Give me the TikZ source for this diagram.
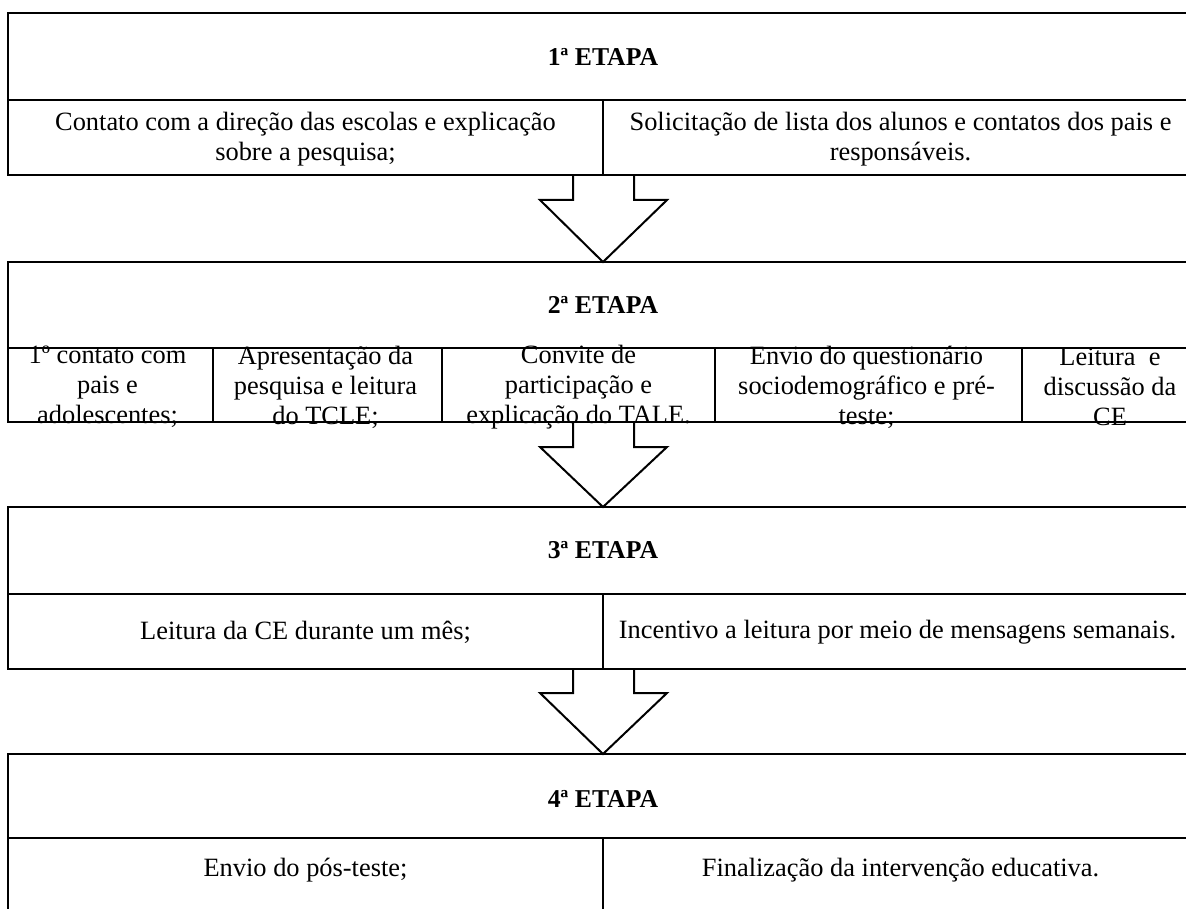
\documentclass[tikz,border=0pt]{standalone}
\usepackage{fontspec}
\setmainfont{Liberation Serif}
\usetikzlibrary{calc}
\begin{document}
\begin{tikzpicture}[x=1pt,y=-1pt,
  cell/.style={draw, line width=2.2pt, anchor=north west, inner sep=0pt, outer sep=0pt},
  txt/.style={align=center, inner sep=0pt, font=\fontsize{26.4}{30}\selectfont},
  ttl/.style={inner sep=0pt, font=\fontsize{25.7}{29.6}\selectfont\bfseries},
  blockarrow/.style={draw, line width=2pt, line join=miter}]
\clip (0,0) rectangle (1186,909);

% ---------- 1a ETAPA ----------
\node[cell, minimum width=1190pt, minimum height=87pt] (e1) at (8,13) {};
\node[ttl] (t1) at (e1.center) {1ª ETAPA};
\node[cell, minimum width=595pt, minimum height=75pt] (c11) at (8,100) {};
\node[cell, minimum width=595pt, minimum height=75pt] (c12) at (603,100) {};
\node[txt] (x11) at ($(c11.center)+(0,2)$) {Contato com a direção das escolas e explicação\\sobre a pesquisa;};
\node[txt] (x12) at ($(c12.center)+(0,2)$) {Solicitação de lista dos alunos e contatos dos pais e\\responsáveis.};

% ---------- 2a ETAPA ----------
\node[cell, minimum width=1190pt, minimum height=86pt] (e2) at (8,262) {};
\node[ttl] (t2) at (e2.center) {2ª ETAPA};
\node[cell, minimum width=205pt, minimum height=74pt] (c21) at (8,348) {};
\node[cell, minimum width=229pt, minimum height=74pt] (c22) at (213,348) {};
\node[cell, minimum width=273pt, minimum height=74pt] (c23) at (442,348) {};
\node[cell, minimum width=307pt, minimum height=74pt] (c24) at (715,348) {};
\node[cell, minimum width=176pt, minimum height=74pt] (c25) at (1022,348) {};
\node[txt] (x21) at ($(c21.center)+(-3,2)$) {1º contato com\\pais e\\adolescentes;};
\node[txt] (x22) at ($(c22.center)+(-2,2)$) {Apresentação da\\pesquisa e leitura\\do TCLE;};
\node[txt] (x23) at ($(c23.center)+(0,2)$) {Convite de\\participação e\\explicação do TALE.};
\node[txt] (x24) at ($(c24.center)+(-2,2)$) {Envio do questionário\\sociodemográfico e pré-\\teste;};
\node[txt] (x25) at ($(c25.center)+(0,2)$) {Leitura~ e\\discussão da\\CE};

% ---------- 3a ETAPA ----------
\node[cell, minimum width=1190pt, minimum height=87pt] (e3) at (8,507) {};
\node[ttl] (t3) at (e3.center) {3ª ETAPA};
\node[cell, minimum width=595pt, minimum height=75pt] (c31) at (8,594) {};
\node[cell, minimum width=595pt, minimum height=75pt] (c32) at (603,594) {};
\node[txt] (x31) at ($(c31.center)+(0,1)$) {Leitura da CE durante um mês;};
\node[txt] (x32) at ($(c32.center)+(-3,1)$) {Incentivo a leitura por meio de mensagens semanais.};

% ---------- 4a ETAPA ----------
\node[cell, minimum width=1190pt, minimum height=84pt] (e4) at (8,754) {};
\node[ttl] (t4) at ($(e4.center)+(0,3)$) {4ª ETAPA};
\node[cell, minimum width=595pt, minimum height=75pt] (c41) at (8,838) {};
\node[cell, minimum width=595pt, minimum height=75pt] (c42) at (603,838) {};
\node[txt] (x41) at ($(c41.center)+(0,-5)$) {Envio do pós-teste;};
\node[txt] (x42) at ($(c42.center)+(0,-5)$) {Finalização da intervenção educativa.};

% ---------- block arrows ----------
\coordinate (a1) at (c11.south east);
\coordinate (a2) at (e2.center |- c21.south);
\coordinate (a3) at (c31.south east);
\draw[blockarrow] ($(a1)+(-30,0)$) -- ++(0,25) -- ++(-33,0) -- (e2.north)
  -- ($(a1)+(64,25)$) -- ++(-33,0) -- ++(0,-25);
\draw[blockarrow] ($(a2)+(-30,0)$) -- ++(0,25) -- ++(-33,0) -- (e3.north)
  -- ($(a2)+(64,25)$) -- ++(-33,0) -- ++(0,-25);
\draw[blockarrow] ($(a3)+(-30,0)$) -- ++(0,24) -- ++(-33,0) -- (e4.north)
  -- ($(a3)+(64,24)$) -- ++(-33,0) -- ++(0,-24);
\end{tikzpicture}
\end{document}
